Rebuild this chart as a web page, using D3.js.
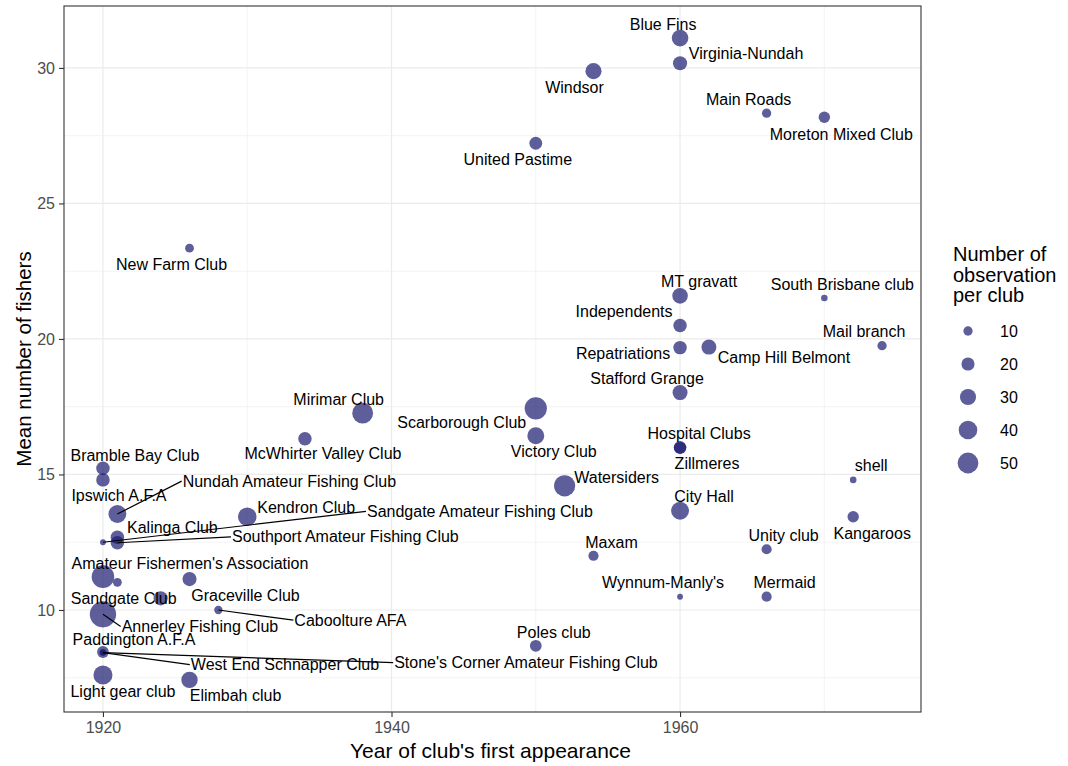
<!DOCTYPE html>
<html>
<head>
<meta charset="utf-8">
<script src="https://cdn.jsdelivr.net/npm/d3@7"></script>
<style>
  body { margin: 0; background: #fff; }
  text { font-family: "Liberation Sans", Arial, sans-serif; }
</style>
</head>
<body>
<div id="chart"></div>
<script>
// club data ("" = point without a label)
const clubs = ["Blue Fins", "Virginia-Nundah", "Windsor", "United Pastime", "Main Roads",
  "Moreton Mixed Club", "New Farm Club", "MT gravatt", "South Brisbane club", "Independents",
  "Mail branch", "Repatriations", "Camp Hill Belmont", "Stafford Grange", "Mirimar Club",
  "Scarborough Club", "Victory Club", "McWhirter Valley Club", "Hospital Clubs", "Zillmeres",
  "Bramble Bay Club", "Ipswich A.F.A", "shell", "Watersiders", "Nundah Amateur Fishing Club",
  "City Hall", "Kendron Club", "Kangaroos", "Kalinga Club", "Southport Amateur Fishing Club",
  "Sandgate Amateur Fishing Club", "Unity club", "Maxam", "Amateur Fishermen's Association", "",
  "Graceville Club", "Sandgate Club", "Wynnum-Manly's", "Mermaid", "Caboolture AFA",
  "Annerley Fishing Club", "Poles club", "Paddington A.F.A", "West End Schnapper Club",
  "Stone's Corner Amateur Fishing Club", "Light gear club", "Elimbah club"];
const firstYear = [1960, 1960, 1954, 1950, 1966,
  1970, 1926, 1960, 1970, 1960,
  1974, 1960, 1962, 1960, 1938,
  1950, 1950, 1934, 1960, 1960,
  1920, 1920, 1972, 1952, 1921,
  1960, 1930, 1972, 1921, 1921,
  1920, 1966, 1954, 1920, 1921,
  1926, 1924, 1960, 1966, 1928,
  1920, 1950, 1920, 1920,
  1920, 1920, 1926];
const meanFishers = [31.1, 30.17, 29.88, 27.22, 28.33,
  28.18, 23.35, 21.59, 21.51, 20.5,
  19.75, 19.68, 19.7, 18.02, 17.26,
  17.44, 16.43, 16.32, 16.0, 15.98,
  15.23, 14.8, 14.8, 14.58, 13.54,
  13.66, 13.44, 13.44, 12.68, 12.48,
  12.5, 12.24, 12.0, 11.23, 11.02,
  11.14, 10.43, 10.49, 10.49, 10.0,
  9.84, 8.68, 8.45, 8.43,
  8.43, 7.6, 7.42];
const nObs = [32, 23, 30, 19, 10,
  15, 9, 28, 5, 21,
  10, 21, 26, 26, 50,
  57, 33, 21, 18, 18,
  21, 21, 5, 52, 37,
  37, 40, 15, 21, 21,
  4, 12, 12, 59, 9,
  23, 23, 4, 12, 8,
  80, 16, 16, 5,
  4, 42, 31];
const legendValues = [10, 20, 30, 40, 50];
const xTicks = [1920, 1940, 1960];
const yTicks = [10, 15, 20, 25, 30];

// label placement (pixel offset of label centre from its point), repel style
const labelOffset = {
  "Blue Fins": [-17, -14], "Virginia-Nundah": [66, -10], "Windsor": [-19, 16],
  "United Pastime": [-18, 16], "Main Roads": [-18, -14], "Moreton Mixed Club": [17, 17],
  "New Farm Club": [-18, 16], "MT gravatt": [19, -14], "South Brisbane club": [18, -14],
  "Independents": [-56, -14], "Mail branch": [-18, -14], "Repatriations": [-57, 6],
  "Camp Hill Belmont": [75, 10], "Stafford Grange": [-33, -14], "Mirimar Club": [-24, -14],
  "Scarborough Club": [-74, 14], "Victory Club": [18, 16], "McWhirter Valley Club": [18, 15],
  "Hospital Clubs": [19, -14], "Zillmeres": [27, 15], "Bramble Bay Club": [32, -13],
  "Ipswich A.F.A": [16, 16], "shell": [18, -14], "Watersiders": [52, -8],
  "Nundah Amateur Fishing Club": [172, -33], "City Hall": [24, -14], "Kendron Club": [59, -9],
  "Kangaroos": [19, 17], "Kalinga Club": [55, -10], "Southport Amateur Fishing Club": [228, -6],
  "Sandgate Amateur Fishing Club": [377, -31], "Unity club": [17, -14], "Maxam": [18, -13],
  "Amateur Fishermen's Association": [87, -13], "Graceville Club": [56, 16],
  "Sandgate Club": [-37, 0], "Wynnum-Manly's": [-17, -14], "Mermaid": [18, -14],
  "Caboolture AFA": [132, 10], "Annerley Fishing Club": [97, 12], "Poles club": [18, -13],
  "Paddington A.F.A": [31, -13], "West End Schnapper Club": [182, 12],
  "Stone's Corner Amateur Fishing Club": [423, 10], "Light gear club": [20, 16],
  "Elimbah club": [46, 15]
};
const withSegment = ["Nundah Amateur Fishing Club", "Southport Amateur Fishing Club",
  "Sandgate Amateur Fishing Club", "Caboolture AFA", "Annerley Fishing Club",
  "West End Schnapper Club", "Stone's Corner Amateur Fishing Club"];

const data = clubs.map((c, i) => ({ club: c, year: firstYear[i], mean: meanFishers[i], n: nObs[i] }));

const W = 1068, H = 766;
const margin = { top: 6, right: 147, bottom: 54, left: 64 };
const width = W - margin.left - margin.right;
const height = H - margin.top - margin.bottom;

const svgRoot = d3.select("#chart").append("svg")
  .attr("width", W).attr("height", H);
const svg = svgRoot.append("g")
  .attr("transform", `translate(${margin.left}, ${margin.top})`);

// scales with ggplot-like 5% expansion
const xe = d3.extent(firstYear), xp = (xe[1] - xe[0]) * 0.05;
const ye = d3.extent(meanFishers), yp = (ye[1] - ye[0]) * 0.05;
const x = d3.scaleLinear().domain([xe[0] - xp, xe[1] + xp]).range([0, width]);
const y = d3.scaleLinear().domain([ye[0] - yp, ye[1] + yp]).range([height, 0]);
const size = d3.scaleSqrt().domain([0, 50]).range([0, 10.4]);

const fillCol = "#191970", fillOp = 0.7;

// grid
const grid = svg.append("g");
const xMinor = xTicks.map(t => t + 10).filter(t => x(t) < width);
const yMinor = yTicks.map(t => t - 2.5).concat([yTicks[yTicks.length - 1] + 2.5]).filter(t => y(t) > 0 && y(t) < height);
grid.selectAll(".xminor").data(xMinor).join("line")
  .attr("x1", d => x(d)).attr("x2", d => x(d)).attr("y1", 0).attr("y2", height)
  .attr("stroke", "#ebebeb").attr("stroke-width", 0.6);
grid.selectAll(".yminor").data(yMinor).join("line")
  .attr("y1", d => y(d)).attr("y2", d => y(d)).attr("x1", 0).attr("x2", width)
  .attr("stroke", "#ebebeb").attr("stroke-width", 0.6);
grid.selectAll(".xmajor").data(xTicks).join("line")
  .attr("x1", d => x(d)).attr("x2", d => x(d)).attr("y1", 0).attr("y2", height)
  .attr("stroke", "#ebebeb").attr("stroke-width", 1.2);
grid.selectAll(".ymajor").data(yTicks).join("line")
  .attr("y1", d => y(d)).attr("y2", d => y(d)).attr("x1", 0).attr("x2", width)
  .attr("stroke", "#ebebeb").attr("stroke-width", 1.2);

// points
svg.append("g").selectAll("circle")
  .data(data)
  .join("circle")
    .attr("cx", d => x(d.year))
    .attr("cy", d => y(d.mean))
    .attr("r", d => size(d.n))
    .attr("fill", fillCol)
    .attr("fill-opacity", fillOp);

// labels
const labelled = data.filter(d => d.club !== "");
const segG = svg.append("g");
const labG = svg.append("g");
labelled.forEach(d => {
  const off = labelOffset[d.club];
  const px = x(d.year), py = y(d.mean);
  const t = labG.append("text")
    .attr("x", px + off[0])
    .attr("y", py + off[1])
    .attr("dy", "0.35em")
    .attr("text-anchor", "middle")
    .style("font-size", "16px")
    .attr("fill", "#000")
    .text(d.club);
  if (withSegment.includes(d.club)) {
    const b = t.node().getBBox();
    const cy = b.y + b.height / 2;
    let ex, ey;
    if (px < b.x) { ex = b.x - 1; ey = cy; }
    else if (px > b.x + b.width) { ex = b.x + b.width + 1; ey = cy; }
    else { ex = px; ey = py < b.y ? b.y : b.y + b.height; }
    segG.append("line")
      .attr("x1", px).attr("y1", py).attr("x2", ex).attr("y2", ey)
      .attr("stroke", "#000").attr("stroke-width", 1.2);
  }
});

// axes
const xAxis = svg.append("g")
  .attr("transform", `translate(0, ${height})`)
  .call(d3.axisBottom(x).tickValues(xTicks).tickFormat(d3.format("d")).tickSize(5).tickPadding(5));
const yAxis = svg.append("g")
  .call(d3.axisLeft(y).tickValues(yTicks).tickSize(5).tickPadding(4));
[xAxis, yAxis].forEach(a => {
  a.select(".domain").remove();
  a.selectAll("line").attr("stroke", "#333").attr("stroke-width", 1.1);
  a.selectAll("text").attr("fill", "#4d4d4d").style("font-size", "16px")
    .style("font-family", "'Liberation Sans', Arial, sans-serif");
});

// panel border
svg.append("rect")
  .attr("width", width).attr("height", height)
  .attr("fill", "none").attr("stroke", "#333").attr("stroke-width", 1.1);

// axis titles
svgRoot.append("text")
  .attr("x", margin.left + width / 2 - 2)
  .attr("y", 758)
  .attr("text-anchor", "middle")
  .style("font-size", "21px")
  .text("Year of club's first appearance");
svgRoot.append("text")
  .attr("transform", "rotate(-90)")
  .attr("x", -(margin.top + height / 2))
  .attr("y", 31)
  .attr("text-anchor", "middle")
  .style("font-size", "20.5px")
  .text("Mean number of fishers");

// legend
const legend = svgRoot.append("g").attr("transform", "translate(953, 0)");
legend.selectAll(".title")
  .data(["Number of", "observation", "per club"])
  .join("text")
    .attr("x", 0)
    .attr("y", (d, i) => 261 + i * 20.5)
    .style("font-size", "20px")
    .text(d => d);
legend.selectAll("circle")
  .data(legendValues)
  .join("circle")
    .attr("cx", 15)
    .attr("cy", (d, i) => 331 + i * 33)
    .attr("r", d => size(d))
    .attr("fill", fillCol)
    .attr("fill-opacity", fillOp);
legend.selectAll(".lab")
  .data(legendValues)
  .join("text")
    .attr("x", 47)
    .attr("y", (d, i) => 331 + i * 33)
    .attr("dy", "0.35em")
    .style("font-size", "16px")
    .text(d => d);
</script>
</body>
</html>
